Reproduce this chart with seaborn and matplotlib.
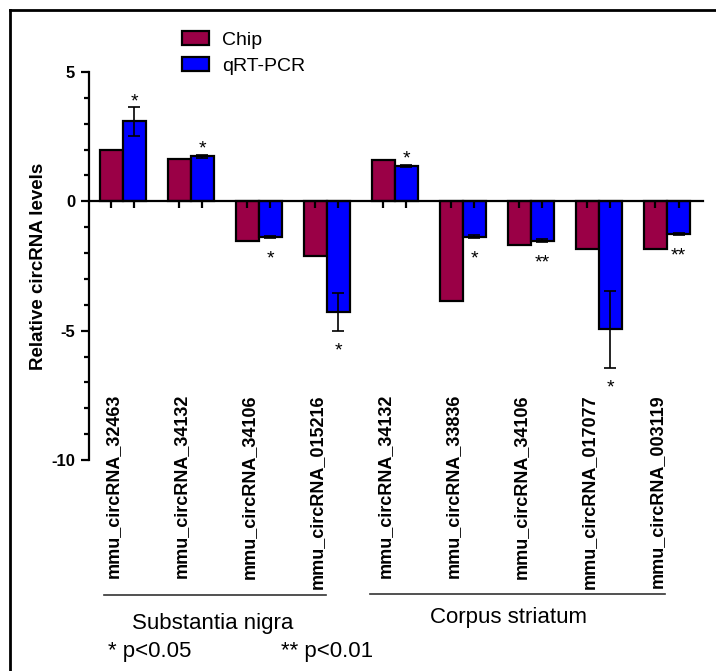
import matplotlib
matplotlib.use("Agg")
import matplotlib.pyplot as plt
from matplotlib.patches import Patch
from matplotlib.lines import Line2D
import seaborn as sns
import pandas as pd

# Data: circRNA expression, microarray (Chip) vs qRT-PCR validation
tissues = ["Substantia nigra"] * 4 + ["Corpus striatum"] * 5
circ_ids = ["mmu_circRNA_32463", "mmu_circRNA_34132", "mmu_circRNA_34106", "mmu_circRNA_015216",
            "mmu_circRNA_34132", "mmu_circRNA_33836", "mmu_circRNA_34106", "mmu_circRNA_017077",
            "mmu_circRNA_003119"]
chip = [1.97, 1.62, -1.52, -2.13, 1.61, -3.85, -1.70, -1.86, -1.83]
qrt = [3.09, 1.74, -1.38, -4.27, 1.38, -1.36, -1.53, -4.95, -1.26]
qrt_err = [0.55, 0.07, 0.05, 0.73, 0.04, 0.06, 0.06, 1.48, 0.05]
signif = ["*", "*", "*", "*", "*", "*", "**", "*", "**"]

methods = ["Chip", "qRT-PCR"]
colors = {"Chip": "#9A0046", "qRT-PCR": "#0000FF"}

keys = [f"{t}|{c}" for t, c in zip(tissues, circ_ids)]
df = pd.DataFrame({
    "key": keys * 2,
    "value": chip + qrt,
    "method": ["Chip"] * len(keys) + ["qRT-PCR"] * len(keys),
})

plt.rcParams["font.family"] = ["Liberation Sans", "DejaVu Sans"]

W, H = 716, 671
fig = plt.figure(figsize=(W / 100, H / 100), dpi=100)
ax = fig.add_axes([89 / W, 1 - 460 / H, (703 - 89) / W, (460 - 72) / H])

sns.barplot(data=df, x="key", y="value", hue="method", order=keys, hue_order=methods,
            palette=colors, width=0.68, saturation=1, edgecolor="black", linewidth=1.6,
            errorbar=None, legend=False, ax=ax)

ax.set_ylim(-10, 5)
ax.set_xlim(-0.496, 8.53)

# error bars and significance marks on the qRT-PCR bars
qrt_bars = ax.containers[1]
chip_bars = ax.containers[0]
centers = []
for b in list(chip_bars) + list(qrt_bars):
    centers.append(b.get_x() + b.get_width() / 2)
for b, v, e, s in zip(qrt_bars, qrt, qrt_err, signif):
    xc = b.get_x() + b.get_width() / 2
    ax.errorbar(xc, v, yerr=e, fmt="none", ecolor="black", elinewidth=1.2,
                capsize=4, capthick=1.2, zorder=5)
    if v > 0:
        ax.annotate(s, (xc, v + e), xytext=(0, 0.5), textcoords="offset points",
                    ha="center", va="baseline", fontsize=14)
    else:
        ax.annotate(s, (xc, v - e), xytext=(0, -18), textcoords="offset points",
                    ha="center", va="baseline", fontsize=14)

# axes styling
for side in ("top", "right"):
    ax.spines[side].set_visible(False)
ax.spines["bottom"].set_position(("data", 0))
ax.spines["bottom"].set_linewidth(1.6)
ax.spines["left"].set_linewidth(1.6)
ax.set_xticks(sorted(centers))
ax.set_xticklabels([])
ax.tick_params(axis="x", direction="out", length=5, width=1.6)
ax.set_yticks([5, 0, -5, -10])
ax.set_yticklabels(["5", "0", "-5", "-10"], fontsize=12, fontweight="bold")
ax.set_yticks(range(-10, 6), minor=True)
ax.tick_params(axis="y", which="major", length=6, width=1.6, pad=4)
ax.tick_params(axis="y", which="minor", length=3.6, width=1.6)
ax.set_xlabel("")
ax.set_ylabel("Relative circRNA levels", fontsize=13.5, fontweight="bold", labelpad=3)

# rotated gene labels below the plotting area
for i, name in enumerate(circ_ids):
    ax.text(i - 0.14, -7.45, name, rotation=90, ha="center", va="top",
            fontsize=13, fontweight="bold", clip_on=False)

# tissue group brackets
fig.add_artist(Line2D([104 / W, 326 / W], [1 - 595 / H] * 2, color="#333333", lw=1.2))
fig.add_artist(Line2D([370 / W, 665 / W], [1 - 593.5 / H] * 2, color="#333333", lw=1.2))
fig.text(213 / W, 1 - 623 / H, "Substantia nigra", ha="center", va="center", fontsize=16)
fig.text(508 / W, 1 - 618 / H, "Corpus striatum", ha="center", va="center", fontsize=16)
fig.text(108 / W, 1 - 652 / H, "* p<0.05", ha="left", va="center", fontsize=16)
fig.text(281 / W, 1 - 652 / H, "** p<0.01", ha="left", va="center", fontsize=16)

# legend
handles = [Patch(facecolor=colors[m], edgecolor="black", linewidth=1.6, label=m) for m in methods]
fig.legend(handles=handles, loc="upper left", bbox_to_anchor=(182 / W, 1 - 31 / H),
           frameon=False, fontsize=14, handlelength=1.4, handleheight=0.72,
           handletextpad=0.65, labelspacing=0.45, borderpad=0, borderaxespad=0)

# outer frame
fig.add_artist(Line2D([10 / W, 1], [1 - 10 / H] * 2, color="black", lw=2))
fig.add_artist(Line2D([10 / W] * 2, [0, 1 - 10 / H], color="black", lw=2))

fig.savefig("out.png", dpi=100)
